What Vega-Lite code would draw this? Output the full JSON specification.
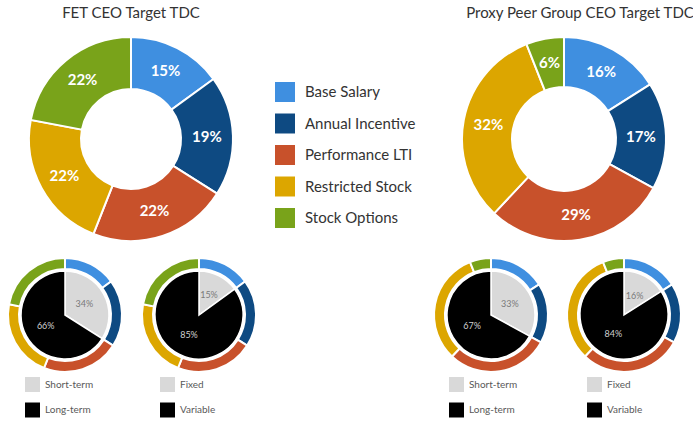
{
  "$schema": "https://vega.github.io/schema/vega-lite/v6.json",
  "padding": {"top": 6, "left": 0, "right": 0, "bottom": 0},
  "spacing": 0,
  "background": "white",
  "config": {
    "view": {"stroke": null},
    "font": "Lato",
    "title": {"font": "Lato", "fontSize": 15, "fontWeight": "normal", "color": "#333333", "offset": 3}
  },
  "resolve": {"scale": {"fill": "independent"}},
  "datasets": {
    "fet": [
      {"component": "Base Salary", "k": 1, "pct": 15, "label": "15%"},
      {"component": "Annual Incentive", "k": 2, "pct": 19, "label": "19%"},
      {"component": "Performance LTI", "k": 3, "pct": 22, "label": "22%"},
      {"component": "Restricted Stock", "k": 4, "pct": 22, "label": "22%"},
      {"component": "Stock Options", "k": 5, "pct": 22, "label": "22%"}
    ],
    "peer": [
      {"component": "Base Salary", "k": 1, "pct": 16, "label": "16%"},
      {"component": "Annual Incentive", "k": 2, "pct": 17, "label": "17%"},
      {"component": "Performance LTI", "k": 3, "pct": 29, "label": "29%"},
      {"component": "Restricted Stock", "k": 4, "pct": 32, "label": "32%"},
      {"component": "Stock Options", "k": 5, "pct": 6, "label": "6%"}
    ],
    "fetST": [
      {"type": "Short-term", "k": 1, "pct": 34, "label": "34%"},
      {"type": "Long-term", "k": 2, "pct": 66, "label": "66%"}
    ],
    "fetFV": [
      {"type": "Fixed", "k": 1, "pct": 15, "label": "15%"},
      {"type": "Variable", "k": 2, "pct": 85, "label": "85%"}
    ],
    "peerST": [
      {"type": "Short-term", "k": 1, "pct": 33, "label": "33%"},
      {"type": "Long-term", "k": 2, "pct": 67, "label": "67%"}
    ],
    "peerFV": [
      {"type": "Fixed", "k": 1, "pct": 16, "label": "16%"},
      {"type": "Variable", "k": 2, "pct": 84, "label": "84%"}
    ]
  },
  "vconcat": [
    {
      "hconcat": [
        {
          "width": 262, "height": 230,
          "title": {"text": "FET CEO Target TDC"},
          "data": {"name": "fet"},
          "encoding": {
            "theta": {"field": "pct", "type": "quantitative", "stack": true},
            "order": {"field": "k", "type": "quantitative"}
          },
          "layer": [
            {
              "mark": {"type": "arc", "outerRadius": 102, "innerRadius": 50, "stroke": "white", "strokeWidth": 2},
              "encoding": {
                "color": {
                  "field": "component", "type": "nominal",
                  "scale": {"domain": ["Base Salary", "Annual Incentive", "Performance LTI", "Restricted Stock", "Stock Options"],
                            "range": ["#3f8fe0", "#0e4a82", "#c8512b", "#dca600", "#79a31a"]},
                  "legend": {"orient": "none", "legendX": 275, "legendY": 58, "title": null,
                             "symbolType": "square", "symbolSize": 400, "symbolStrokeWidth": 0, "symbolOpacity": 1,
                             "labelFontSize": 15, "labelFont": "Lato", "labelColor": "#333333", "labelOffset": 10,
                             "rowPadding": 11.5, "labelLimit": 200}
                }
              }
            },
            {
              "mark": {"type": "text", "radius": 76, "fontSize": 15, "fontWeight": "bold"},
              "encoding": {"text": {"field": "label"}, "color": {"value": "white"}}
            }
          ]
        },
        {
          "width": 202, "height": 230,
          "title": {"text": "Proxy Peer Group CEO Target TDC", "dx": 16},
          "data": {"name": "peer"},
          "encoding": {
            "theta": {"field": "pct", "type": "quantitative", "stack": true},
            "order": {"field": "k", "type": "quantitative"}
          },
          "layer": [
            {
              "mark": {"type": "arc", "outerRadius": 102, "innerRadius": 52, "stroke": "white", "strokeWidth": 2},
              "encoding": {"color": {"field": "component", "type": "nominal", "legend": null}}
            },
            {
              "mark": {"type": "text", "radius": 77, "fontSize": 15, "fontWeight": "bold"},
              "encoding": {"text": {"field": "label"}, "color": {"value": "white"}}
            }
          ]
        }
      ],
      "spacing": 196
    },
    {
      "hconcat": [
        {
          "hconcat": [
            {
              "width": 130, "height": 114,
              "encoding": {
                "theta": {"field": "pct", "type": "quantitative", "stack": true},
                "order": {"field": "k", "type": "quantitative"}
              },
              "layer": [
                {"data": {"name": "fet"}, "mark": {"type": "arc", "outerRadius": 57, "innerRadius": 46, "stroke": "white", "strokeWidth": 2},
                 "encoding": {"color": {"field": "component", "type": "nominal", "legend": null}}},
                {"data": {"name": "fetST"}, "mark": {"type": "arc", "outerRadius": 44, "stroke": "white", "strokeWidth": 1.5},
                 "encoding": {"fill": {"field": "type", "type": "nominal", "sort": null,
                   "scale": {"domain": ["Short-term", "Long-term"], "range": ["#d9d9d9", "#000000"]},
                   "legend": {"orient": "none", "legendX": 25, "legendY": 119, "title": null, "symbolType": "square", "symbolSize": 225,
                              "symbolStrokeWidth": 0, "symbolOpacity": 1, "labelFontSize": 10, "labelColor": "#595959", "labelOffset": 5, "rowPadding": 10.5}}}},
                {"data": {"name": "fetST"}, "mark": {"type": "text", "radius": 22, "fontSize": 9},
                 "encoding": {"text": {"field": "label"}, "color": {"condition": {"test": "datum.k == 1", "value": "#7a7a7a"}, "value": "#d0d0d0"}}}
              ]
            },
            {
              "width": 130, "height": 114,
              "encoding": {
                "theta": {"field": "pct", "type": "quantitative", "stack": true},
                "order": {"field": "k", "type": "quantitative"}
              },
              "layer": [
                {"data": {"name": "fet"}, "mark": {"type": "arc", "outerRadius": 57, "innerRadius": 46, "stroke": "white", "strokeWidth": 2},
                 "encoding": {"color": {"field": "component", "type": "nominal", "legend": null}}},
                {"data": {"name": "fetFV"}, "mark": {"type": "arc", "outerRadius": 44, "stroke": "white", "strokeWidth": 1.5},
                 "encoding": {"fill": {"field": "type", "type": "nominal", "sort": null,
                   "scale": {"domain": ["Fixed", "Variable"], "range": ["#d9d9d9", "#000000"]},
                   "legend": {"orient": "none", "legendX": 26, "legendY": 119, "title": null, "symbolType": "square", "symbolSize": 225,
                              "symbolStrokeWidth": 0, "symbolOpacity": 1, "labelFontSize": 10, "labelColor": "#595959", "labelOffset": 5, "rowPadding": 10.5}}}},
                {"data": {"name": "fetFV"}, "mark": {"type": "text", "radius": 22, "fontSize": 9},
                 "encoding": {"text": {"field": "label"}, "color": {"condition": {"test": "datum.k == 1", "value": "#7a7a7a"}, "value": "#d0d0d0"}}}
              ]
            }
          ],
          "spacing": 4,
          "resolve": {"scale": {"fill": "independent"}}
        },
        {
          "hconcat": [
            {
              "width": 130, "height": 114,
              "encoding": {
                "theta": {"field": "pct", "type": "quantitative", "stack": true},
                "order": {"field": "k", "type": "quantitative"}
              },
              "layer": [
                {"data": {"name": "peer"}, "mark": {"type": "arc", "outerRadius": 57, "innerRadius": 46, "stroke": "white", "strokeWidth": 2},
                 "encoding": {"color": {"field": "component", "type": "nominal", "legend": null}}},
                {"data": {"name": "peerST"}, "mark": {"type": "arc", "outerRadius": 44, "stroke": "white", "strokeWidth": 1.5},
                 "encoding": {"fill": {"field": "type", "type": "nominal", "sort": null,
                   "scale": {"domain": ["Short-term", "Long-term"], "range": ["#d9d9d9", "#000000"]},
                   "legend": {"orient": "none", "legendX": 23, "legendY": 119, "title": null, "symbolType": "square", "symbolSize": 225,
                              "symbolStrokeWidth": 0, "symbolOpacity": 1, "labelFontSize": 10, "labelColor": "#595959", "labelOffset": 5, "rowPadding": 10.5}}}},
                {"data": {"name": "peerST"}, "mark": {"type": "text", "radius": 22, "fontSize": 9},
                 "encoding": {"text": {"field": "label"}, "color": {"condition": {"test": "datum.k == 1", "value": "#7a7a7a"}, "value": "#d0d0d0"}}}
              ]
            },
            {
              "width": 130, "height": 114,
              "encoding": {
                "theta": {"field": "pct", "type": "quantitative", "stack": true},
                "order": {"field": "k", "type": "quantitative"}
              },
              "layer": [
                {"data": {"name": "peer"}, "mark": {"type": "arc", "outerRadius": 57, "innerRadius": 46, "stroke": "white", "strokeWidth": 2},
                 "encoding": {"color": {"field": "component", "type": "nominal", "legend": null}}},
                {"data": {"name": "peerFV"}, "mark": {"type": "arc", "outerRadius": 44, "stroke": "white", "strokeWidth": 1.5},
                 "encoding": {"fill": {"field": "type", "type": "nominal", "sort": null,
                   "scale": {"domain": ["Fixed", "Variable"], "range": ["#d9d9d9", "#000000"]},
                   "legend": {"orient": "none", "legendX": 28, "legendY": 119, "title": null, "symbolType": "square", "symbolSize": 225,
                              "symbolStrokeWidth": 0, "symbolOpacity": 1, "labelFontSize": 10, "labelColor": "#595959", "labelOffset": 5, "rowPadding": 10.5}}}},
                {"data": {"name": "peerFV"}, "mark": {"type": "text", "radius": 22, "fontSize": 9},
                 "encoding": {"text": {"field": "label"}, "color": {"condition": {"test": "datum.k == 1", "value": "#7a7a7a"}, "value": "#d0d0d0"}}}
              ]
            }
          ],
          "spacing": 3,
          "resolve": {"scale": {"fill": "independent"}}
        }
      ],
      "spacing": 162,
      "resolve": {"scale": {"fill": "independent"}}
    }
  ]
}
